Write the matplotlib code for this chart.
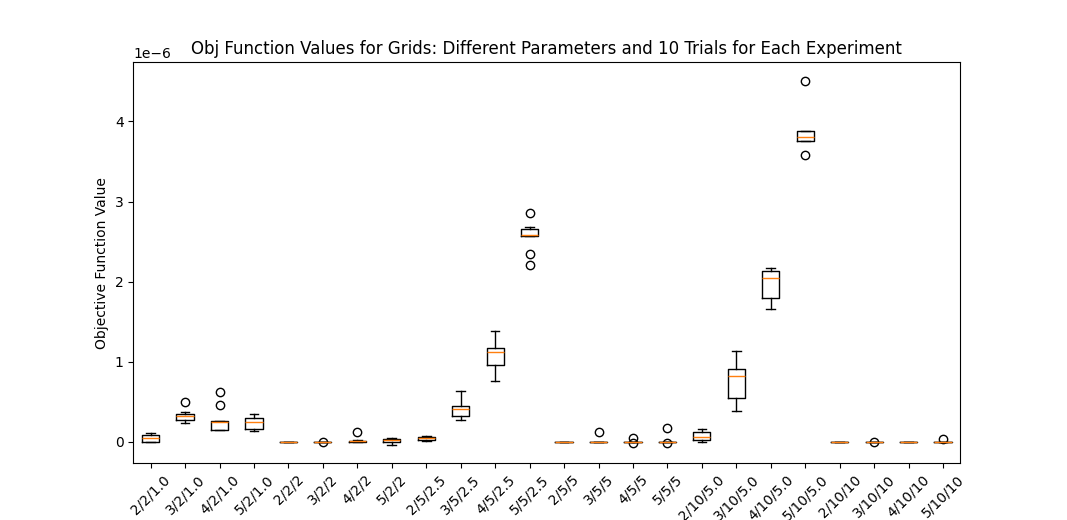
import matplotlib
matplotlib.use("Agg")
import matplotlib.pyplot as plt

labels = ["2/2/1.0", "3/2/1.0", "4/2/1.0", "5/2/1.0", "2/2/2", "3/2/2", "4/2/2", "5/2/2",
          "2/5/2.5", "3/5/2.5", "4/5/2.5", "5/5/2.5", "2/5/5", "3/5/5", "4/5/5", "5/5/5",
          "2/10/5.0", "3/10/5.0", "4/10/5.0", "5/10/5.0", "2/10/10", "3/10/10", "4/10/10", "5/10/10"]

# values in units of 1e-6
whislo = [0.000, 0.233, 0.150, 0.133, 0.000, 0.000, 0.000, -0.035,
          0.012, 0.270, 0.757, 2.565, 0.000, 0.000, 0.000, 0.000,
          0.000, 0.387, 1.658, 3.753, 0.000, 0.000, 0.000, 0.000]
q1 = [0.000, 0.266, 0.150, 0.162, 0.000, 0.000, 0.000, 0.000,
      0.020, 0.320, 0.960, 2.565, 0.000, 0.000, 0.000, 0.000,
      0.017, 0.545, 1.792, 3.762, 0.000, 0.000, 0.000, 0.000]
med = [0.046, 0.316, 0.241, 0.253, 0.000, 0.000, 0.005, 0.017,
       0.046, 0.411, 1.118, 2.577, 0.000, 0.000, 0.000, 0.000,
       0.058, 0.823, 2.041, 3.807, 0.000, 0.000, 0.000, 0.000]
q3 = [0.079, 0.345, 0.258, 0.303, 0.000, 0.002, 0.012, 0.037,
      0.066, 0.449, 1.168, 2.652, 0.000, 0.002, 0.002, 0.002,
      0.120, 0.906, 2.132, 3.878, 0.000, 0.000, 0.000, 0.002]
whishi = [0.116, 0.366, 0.258, 0.349, 0.000, 0.002, 0.018, 0.050,
          0.070, 0.632, 1.380, 2.681, 0.000, 0.002, 0.002, 0.002,
          0.166, 1.139, 2.166, 3.878, 0.000, 0.000, 0.000, 0.002]
fliers = [[], [0.495], [0.623, 0.457], [], [], [-0.005], [0.125], [],
          [], [], [], [2.855, 2.348, 2.203], [], [0.120], [0.050, -0.015], [0.170, -0.016],
          [], [], [], [4.510, 3.583], [], [0.000], [], [0.037]]

scale = 1e-6
stats = []
for i, lab in enumerate(labels):
    stats.append(dict(label=lab,
                      whislo=whislo[i] * scale, q1=q1[i] * scale, med=med[i] * scale,
                      q3=q3[i] * scale, whishi=whishi[i] * scale,
                      fliers=[f * scale for f in fliers[i]]))

fig, ax = plt.subplots(figsize=(10.67, 5.2), dpi=100)
ax.bxp(stats, widths=0.5, flierprops=dict(marker='o', markerfacecolor='none',
                                          markeredgecolor='black', markersize=6))
ax.set_title("Obj Function Values for Grids: Different Parameters and 10 Trials for Each Experiment")
ax.set_ylabel("Objective Function Value")
plt.setp(ax.get_xticklabels(), rotation=45)
fig.savefig("out.png", dpi=100)
